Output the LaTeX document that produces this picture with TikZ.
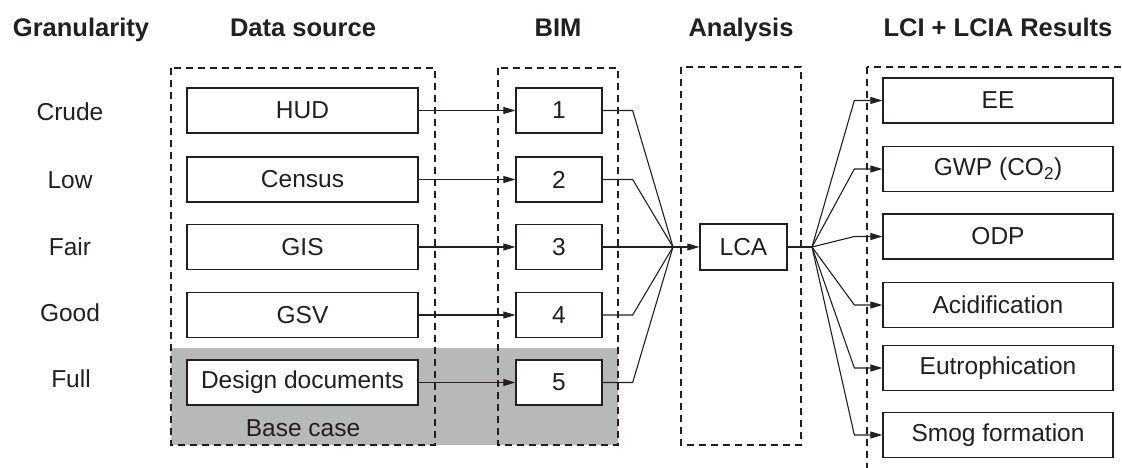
\documentclass[tikz,border=0pt]{standalone}
\usepackage{fontspec}
\setmainfont{Liberation Sans}
\usetikzlibrary{arrows.meta}
\definecolor{ink}{HTML}{231F20}
\definecolor{basegray}{RGB}{183,184,184}
\begin{document}
\begin{tikzpicture}[x=1pt,y=-1pt,
  every node/.style={text=ink, font=\fontsize{24.5}{28}\selectfont},
  hdr/.style={font=\fontsize{25.5}{30}\selectfont\bfseries, anchor=base},
  box/.style={draw=ink, line width=1.3pt, fill=white, minimum height=45pt, inner sep=0pt},
  srcbox/.style={box, minimum width=231pt},
  bimbox/.style={box, minimum width=86pt},
  resbox/.style={box, minimum width=230pt},
  group/.style={draw=ink, line width=1.2pt, dash pattern=on 7pt off 5pt},
  link/.style={draw=ink, line width=1.1pt},
  tip/.style={-{Triangle[length=12pt,width=7pt]}}
]
\useasboundingbox (0,0) rectangle (1122,468);
% shaded base case band
\fill[basegray] (171,348) rectangle (618,445);
% dashed groups
\draw[group] (171,68) rectangle (435,445);
\draw[group] (498,68) rectangle (618,445);
\draw[group] (681,67) rectangle (801,445);
\begin{scope}
  \clip (0,0) rectangle (1122,468);
  \draw[group] (867,67) rectangle (1135,490);
\end{scope}
% headers
\node[hdr] (hgran) at (81,37) {Granularity};
\node[hdr] (hsrc) at (303,37) {Data source};
\node[hdr] (hbim) at (558,37) {BIM};
\node[hdr] (hana) at (741,37) {Analysis};
\node[hdr] (hres) at (998,37) {LCI + LCIA Results};
% granularity labels
\node (g1) at (70,112) {Crude};
\node (g2) at (70,180) {Low};
\node (g3) at (70,247) {Fair};
\node (g4) at (70,313) {Good};
\node (g5) at (71,379) {Full};
% data sources
\node[srcbox] (s1) at (302.5,110.5) {HUD};
\node[srcbox] (s2) at (302.5,179.5) {Census};
\node[srcbox] (s3) at (302.5,247) {GIS};
\node[srcbox] (s4) at (302.5,315) {GSV};
\node[srcbox] (s5) at (302.5,382.5) {Design documents};
\node (base) at (303,428) {Base case};
% BIM models
\node[bimbox] (b1) at (559,110.5) {1};
\node[bimbox] (b2) at (559,179.5) {2};
\node[bimbox] (b3) at (559,247) {3};
\node[bimbox] (b4) at (559,315) {4};
\node[bimbox] (b5) at (559,382.5) {5};
% analysis
\coordinate (merge) at (673,247);
\coordinate (split) at (812,247);
\node[box, minimum width=87pt, minimum height=46pt] (lca) at (743.5,247) {LCA};
% results
\node[resbox] (r1) at (998,100.5) {EE};
\node[resbox] (r2) at (998,169) {GWP (CO\textsubscript{2})};
\node[resbox] (r3) at (998,236.5) {ODP};
\node[resbox] (r4) at (998,305) {Acidification};
\node[resbox] (r5) at (998,368) {Eutrophication};
\node[resbox] (r6) at (998,435) {Smog formation};
% source -> BIM
\foreach \i in {1,...,5} {
  \draw[link,tip] (s\i.east) -- (b\i.west);
  \draw[link] (b\i.east) -- ++(30,0) -- (merge);
}
\draw[link,tip] (merge) -- (lca.west);
\draw[link] (lca.east) -- (split);
\foreach \i in {1,...,6} {
  \draw[link,tip] (split) -- ([xshift=-28pt]r\i.west) -- (r\i.west);
}
\end{tikzpicture}
\end{document}
